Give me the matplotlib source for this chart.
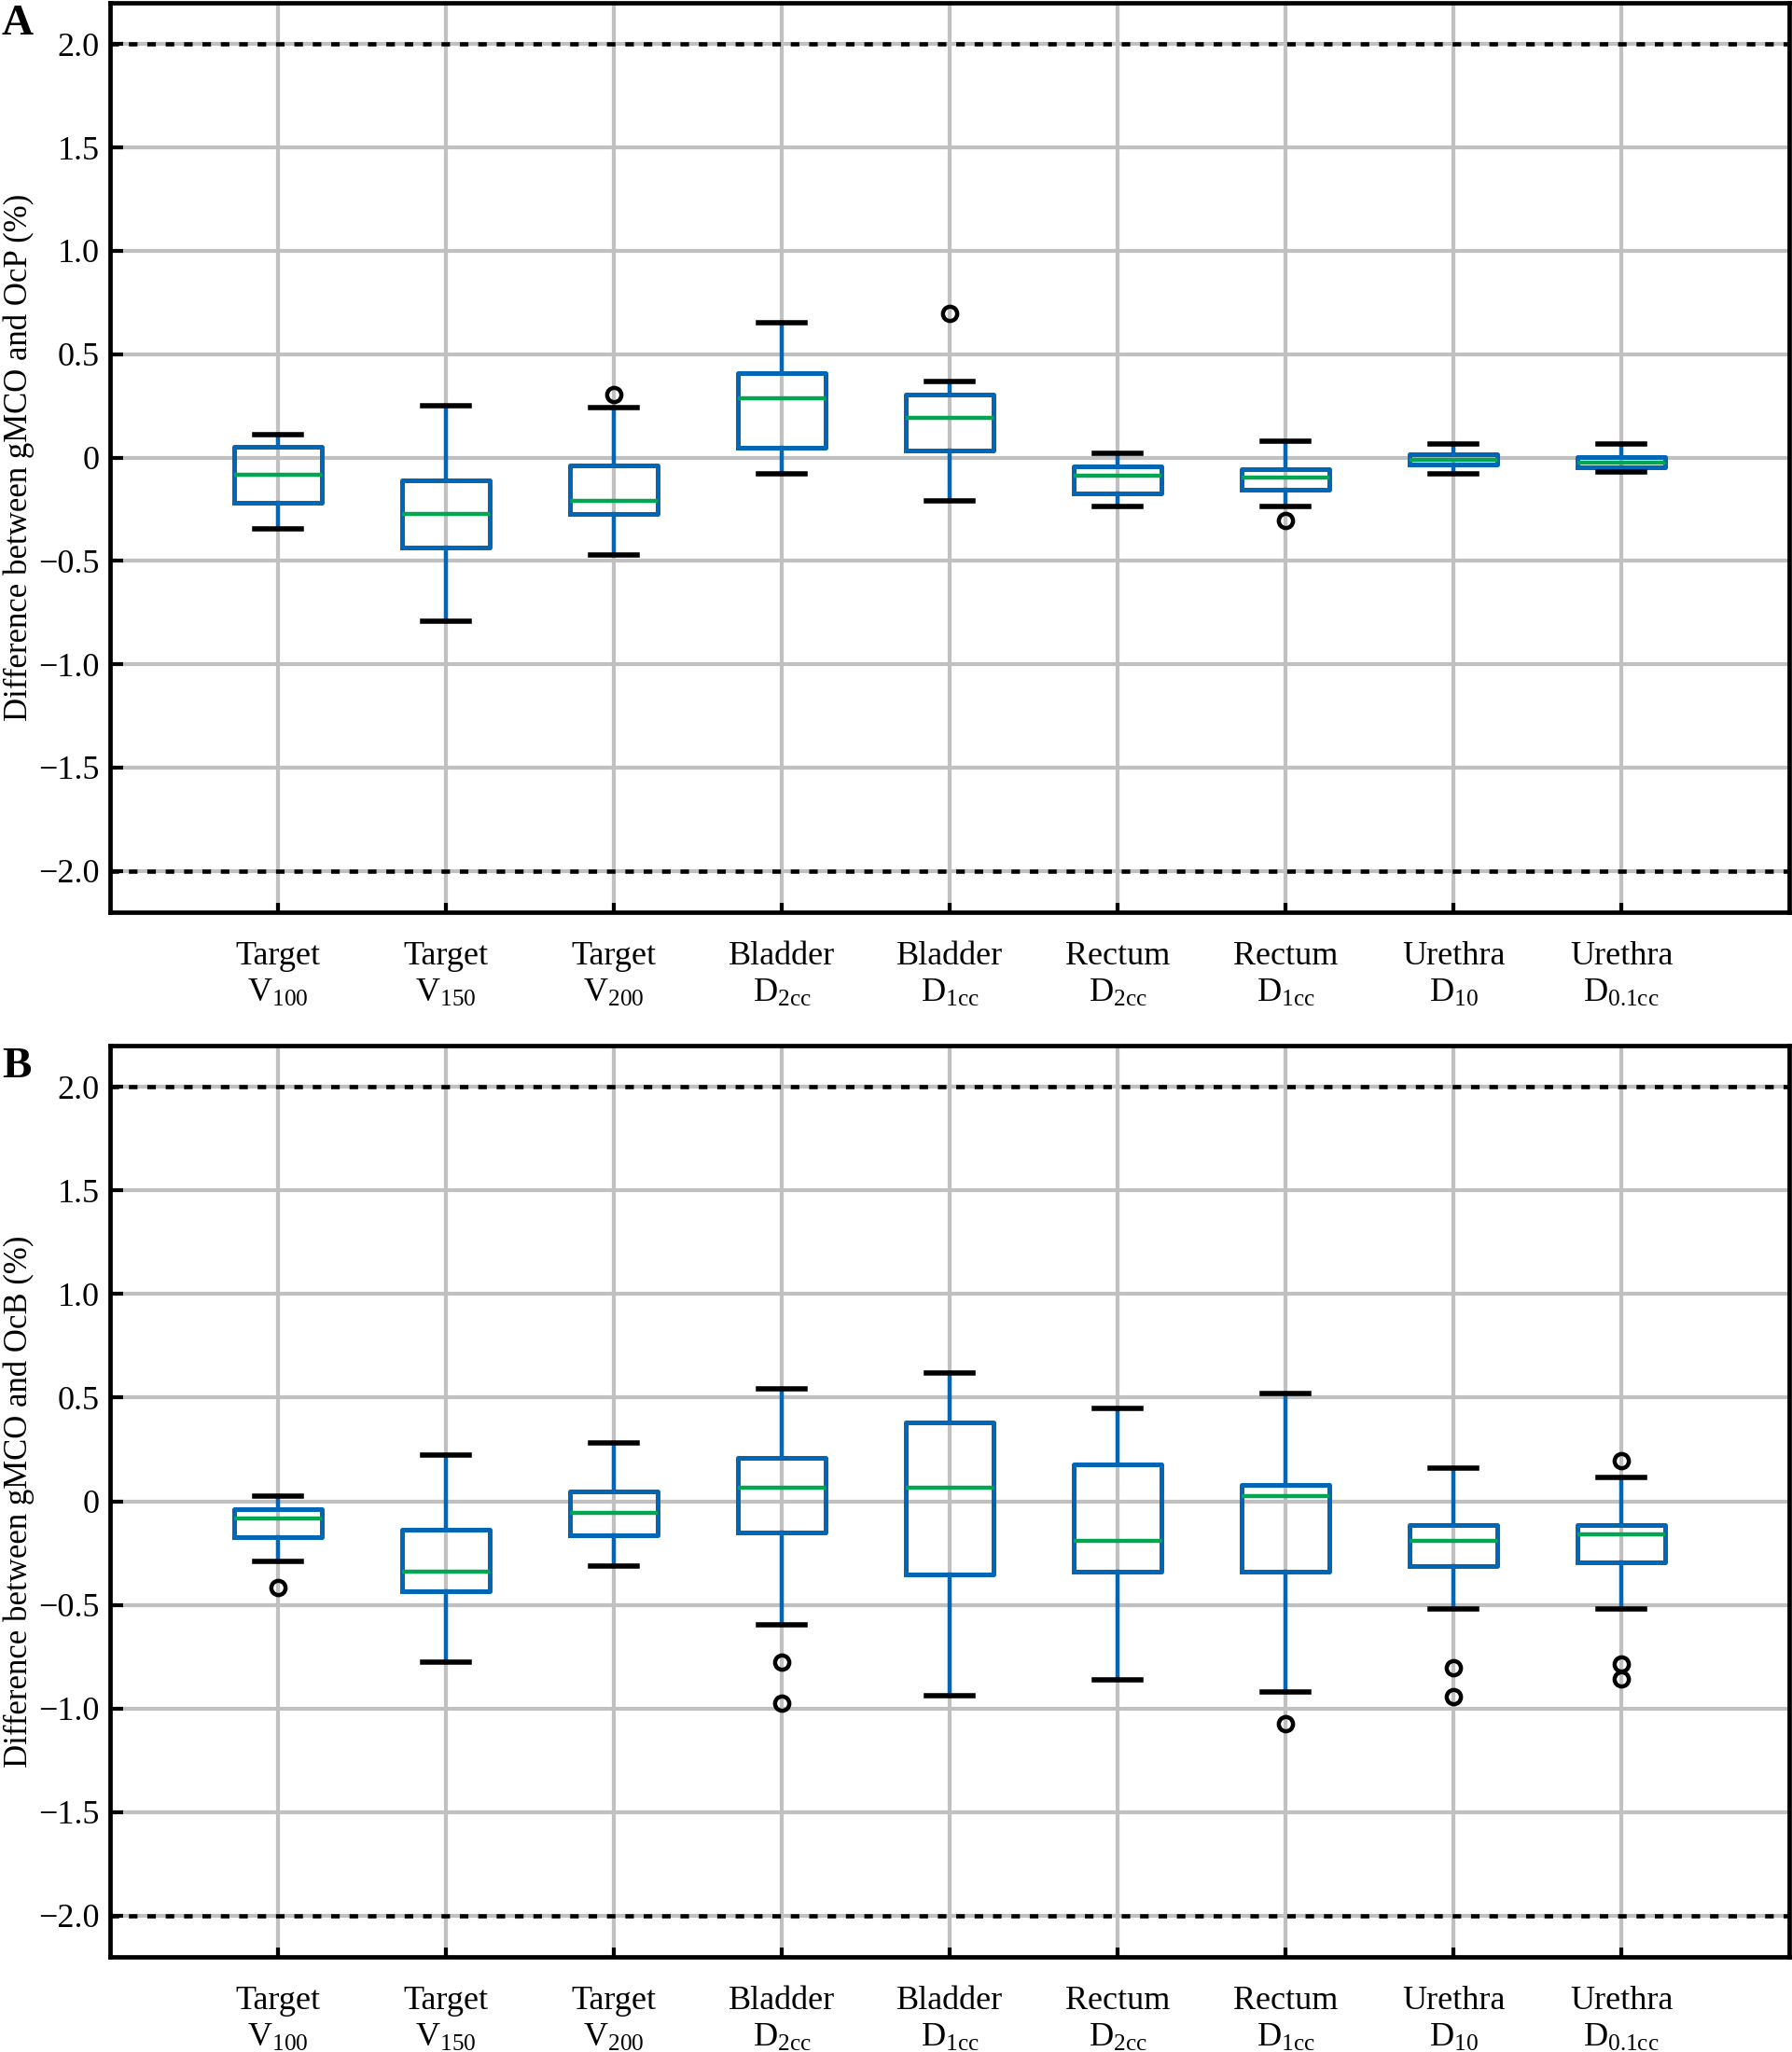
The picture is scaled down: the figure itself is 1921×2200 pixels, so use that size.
import matplotlib
matplotlib.use("Agg")
import matplotlib.pyplot as plt
from matplotlib.ticker import FixedLocator, FuncFormatter

plt.rcParams['font.family'] = ['Liberation Serif', 'DejaVu Serif']
plt.rcParams['mathtext.fontset'] = 'custom'
plt.rcParams['mathtext.rm'] = 'Liberation Serif'
plt.rcParams['mathtext.it'] = 'Liberation Serif:italic'
plt.rcParams['mathtext.bf'] = 'Liberation Serif:bold'

categories = ["Target\n$\\mathregular{V_{100}}$", "Target\n$\\mathregular{V_{150}}$",
              "Target\n$\\mathregular{V_{200}}$", "Bladder\n$\\mathregular{D_{2cc}}$",
              "Bladder\n$\\mathregular{D_{1cc}}$", "Rectum\n$\\mathregular{D_{2cc}}$",
              "Rectum\n$\\mathregular{D_{1cc}}$", "Urethra\n$\\mathregular{D_{10}}$",
              "Urethra\n$\\mathregular{D_{0.1cc}}$"]

# Panel A: gMCO vs OcP
a_whislo = [-0.346, -0.794, -0.471, -0.079, -0.208, -0.238, -0.238, -0.079, -0.071]
a_q1     = [-0.220, -0.436, -0.271,  0.047,  0.035, -0.175, -0.155, -0.032, -0.049]
a_med    = [-0.085, -0.274, -0.208,  0.286,  0.193, -0.088, -0.098, -0.010, -0.023]
a_q3     = [ 0.050, -0.110, -0.040,  0.409,  0.303, -0.041, -0.058,  0.016,  0.002]
a_whishi = [ 0.112,  0.250,  0.241,  0.651,  0.366,  0.020,  0.079,  0.064,  0.064]
a_fliers = [[], [], [0.303], [], [0.696], [], [-0.306], [], []]

# Panel B: gMCO vs OcB
b_whislo = [-0.290, -0.778, -0.315, -0.598, -0.938, -0.863, -0.923, -0.521, -0.521]
b_q1     = [-0.173, -0.435, -0.165, -0.153, -0.353, -0.339, -0.339, -0.315, -0.296]
b_med    = [-0.084, -0.338, -0.057,  0.066,  0.066, -0.192,  0.023, -0.192, -0.158]
b_q3     = [-0.038, -0.138,  0.048,  0.210,  0.381,  0.180,  0.081, -0.113, -0.113]
b_whishi = [ 0.026,  0.222,  0.282,  0.544,  0.619,  0.449,  0.518,  0.161,  0.117]
b_fliers = [[-0.417], [], [], [-0.778, -0.976], [], [], [-1.074],
            [-0.803, -0.943], [0.195, -0.788, -0.859]]

ylabels = ["Difference between gMCO and OcP (%)", "Difference between gMCO and OcB (%)"]
panel_letters = ["A", "B"]
yticks = [-2.0, -1.5, -1.0, -0.5, 0, 0.5, 1.0, 1.5, 2.0]
limit_lines = [-2.0, 2.0]

BLUE = '#0066B5'
GREEN = '#00A651'
GRID = '#C0C0C0'

W, H = 1921, 2200
fig = plt.figure(figsize=(W / 100, H / 100), dpi=100)

def fmt(v, pos):
    if abs(v) < 1e-9:
        return "0"
    return ("%.1f" % v).replace("-", "\u2212")

panels = [
    (a_whislo, a_q1, a_med, a_q3, a_whishi, a_fliers, 3, 978),
    (b_whislo, b_q1, b_med, b_q3, b_whishi, b_fliers, 1121, 2098),
]

for i, (wl, q1, med, q3, wh, fl, top, bot) in enumerate(panels):
    ax = fig.add_axes([118 / W, 1 - bot / H, (1918 - 118) / W, (bot - top) / H])
    stats = []
    for k in range(len(categories)):
        stats.append(dict(whislo=wl[k], q1=q1[k], med=med[k], q3=q3[k],
                          whishi=wh[k], fliers=fl[k]))
    ax.bxp(stats, positions=list(range(1, 10)), widths=0.52, capwidths=0.28,
           showfliers=True,
           boxprops=dict(color=BLUE, linewidth=3.6),
           whiskerprops=dict(color=BLUE, linewidth=3.2),
           capprops=dict(color='black', linewidth=4.0),
           medianprops=dict(color=GREEN, linewidth=3.2),
           flierprops=dict(marker='o', markerfacecolor='none', markeredgecolor='black',
                           markersize=11, markeredgewidth=3.2),
           zorder=3)
    for yl in limit_lines:
        ax.axhline(yl, color='black', linewidth=3.3, linestyle=(0, (2, 2.3)),
                   dash_capstyle='butt', zorder=2)
    ax.set_xlim(0, 10)
    ax.set_ylim(-2.2, 2.2)
    ax.yaxis.set_major_locator(FixedLocator(yticks))
    ax.yaxis.set_major_formatter(FuncFormatter(fmt))
    ax.set_xticks(list(range(1, 10)))
    ax.set_xticklabels(categories, fontsize=26, linespacing=1.3)
    ax.grid(True, color=GRID, linewidth=3.0, zorder=0)
    ax.set_axisbelow(True)
    ax.tick_params(axis='both', direction='in', width=3, color='black')
    ax.tick_params(axis='y', length=10, labelsize=26, pad=8)
    ax.tick_params(axis='x', length=7, pad=22)
    for sp in ax.spines.values():
        sp.set_linewidth(3.4)
        sp.set_color('black')
    ax.set_ylabel(ylabels[i], fontsize=25)
    ax.yaxis.set_label_coords(-0.045, 0.5)
    fig.text(0.001, 1 - (top + 2) / H, panel_letters[i], fontsize=34,
             fontweight='bold', ha='left', va='top')

fig.savefig("out.png", dpi=100)
